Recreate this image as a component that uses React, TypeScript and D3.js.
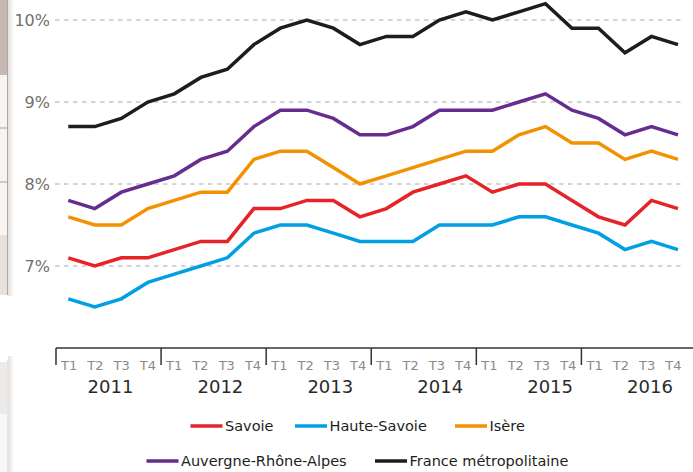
import React from "react";
import * as d3 from "d3";

const years = ["2011", "2012", "2013", "2014", "2015", "2016"];
const quarters = ["T1", "T2", "T3", "T4"];
const yTicks = [7, 8, 9, 10];

const savoie = [7.1, 7.0, 7.1, 7.1, 7.2, 7.3, 7.3, 7.7, 7.7, 7.8, 7.8, 7.6, 7.7, 7.9, 8.0, 8.1, 7.9, 8.0, 8.0, 7.8, 7.6, 7.5, 7.8, 7.7];
const hauteSavoie = [6.6, 6.5, 6.6, 6.8, 6.9, 7.0, 7.1, 7.4, 7.5, 7.5, 7.4, 7.3, 7.3, 7.3, 7.5, 7.5, 7.5, 7.6, 7.6, 7.5, 7.4, 7.2, 7.3, 7.2];
const isere = [7.6, 7.5, 7.5, 7.7, 7.8, 7.9, 7.9, 8.3, 8.4, 8.4, 8.2, 8.0, 8.1, 8.2, 8.3, 8.4, 8.4, 8.6, 8.7, 8.5, 8.5, 8.3, 8.4, 8.3];
const ara = [7.8, 7.7, 7.9, 8.0, 8.1, 8.3, 8.4, 8.7, 8.9, 8.9, 8.8, 8.6, 8.6, 8.7, 8.9, 8.9, 8.9, 9.0, 9.1, 8.9, 8.8, 8.6, 8.7, 8.6];
const france = [8.7, 8.7, 8.8, 9.0, 9.1, 9.3, 9.4, 9.7, 9.9, 10.0, 9.9, 9.7, 9.8, 9.8, 10.0, 10.1, 10.0, 10.1, 10.2, 9.9, 9.9, 9.6, 9.8, 9.7];

const series = [
  { name: "Savoie", color: "#e52329", values: savoie },
  { name: "Haute-Savoie", color: "#00a0e2", values: hauteSavoie },
  { name: "Isère", color: "#f39200", values: isere },
  { name: "Auvergne-Rhône-Alpes", color: "#662d91", values: ara },
  { name: "France métropolitaine", color: "#1d1d1b", values: france },
];

const W = 693, H = 472;
const font = "DejaVu Sans, sans-serif";

export default function App() {
  const periods = years.flatMap(y => quarters.map(q => `${y}-${q}`));

  const x = d3.scalePoint<string>().domain(periods).range([68.3, 678]);
  const band = d3.scaleBand<string>().domain(periods).range([56, 686.5]);
  const yearX = d3.scalePoint<string>().domain(years).range([110.5, 660]);
  const y = d3.scaleLinear().domain([7, 10]).range([266, 20]);

  const line = d3.line<number>()
    .x((_, i) => x(periods[i]) as number)
    .y(d => y(d));

  const axisY = 348;
  // legend layout: [row, x start]
  const legendPos = [[0, 190.5], [0, 295], [0, 455], [1, 146.5], [1, 375]];

  return (
    <svg width={W} height={H} style={{ position: "absolute", left: 0, top: 0, background: "#fff" }}>
      <defs>
        <linearGradient id="shadow" x1="0" x2="1" y1="0" y2="0">
          <stop offset="0" stopColor="#000" stopOpacity={0.12} />
          <stop offset="1" stopColor="#000" stopOpacity={0} />
        </linearGradient>
      </defs>

      {/* fragments of the page at the left edge */}
      <rect x={8} y={0} width={6} height={296} fill="url(#shadow)" />
      <rect x={8} y={356} width={6} height={116} fill="url(#shadow)" />
      <rect x={0} y={0} width={8} height={75} fill="#c6b9b1" />
      <rect x={0} y={75} width={8} height={160} fill="#f7f5f3" />
      <line x1={0} x2={8} y1={128} y2={128} stroke="#ad9d92" />
      <line x1={0} x2={8} y1={182} y2={182} stroke="#ad9d92" />
      <rect x={0} y={235} width={8} height={60} fill="#e7e0db" />
      <line x1={7.5} x2={7.5} y1={0} y2={295} stroke="#b5a69c" />
      <rect x={0} y={362} width={8} height={52} fill="#eeeae7" />
      <rect x={0} y={414} width={8} height={58} fill="#f8f8f8" />
      <line x1={7.5} x2={7.5} y1={360} y2={472} stroke="#e6e6e6" />

      {yTicks.map(t => (
        <g key={t}>
          <line x1={55} x2={682} y1={y(t)} y2={y(t)} stroke="#aaa" strokeWidth={1} strokeDasharray="4.5 4.5" />
          <text x={50} y={y(t)} dy="0.35em" textAnchor="end" fontFamily={font} fontSize={16} fill="#6f6f6f">
            {t}%
          </text>
        </g>
      ))}

      {series.map(s => (
        <path key={s.name} d={line(s.values) as string} fill="none" stroke={s.color}
          strokeWidth={3.5} strokeLinejoin="miter" />
      ))}

      <line x1={56} x2={W} y1={axisY} y2={axisY} stroke="#333" strokeWidth={1.5} />
      {years.map(yr => {
        const x0 = band(`${yr}-T1`) as number;
        return (
          <g key={yr}>
            <line x1={x0} x2={x0} y1={axisY} y2={axisY + 17} stroke="#333" strokeWidth={1.5} />
            {quarters.map(q => (
              <text key={q} x={(band(`${yr}-${q}`) as number) + band.bandwidth() / 2} y={369.5}
                textAnchor="middle" fontFamily={font} fontSize={13} fill="#8a8a8a">
                {q}
              </text>
            ))}
            <text x={Math.min(yearX(yr) as number, 650)} y={393} textAnchor="middle"
              fontFamily={font} fontSize={18} fill="#2a2a2a">
              {yr}
            </text>
          </g>
        );
      })}

      {series.map((s, i) => {
        const [row, lx] = legendPos[i];
        const ly = row === 0 ? 426 : 461;
        return (
          <g key={s.name}>
            <line x1={lx} x2={lx + 32} y1={ly} y2={ly} stroke={s.color} strokeWidth={3.5} />
            <text x={lx + 34.5} y={ly} dy="0.36em" fontFamily={font} fontSize={14.5} fill="#1d1d1b">
              {s.name}
            </text>
          </g>
        );
      })}
    </svg>
  );
}
